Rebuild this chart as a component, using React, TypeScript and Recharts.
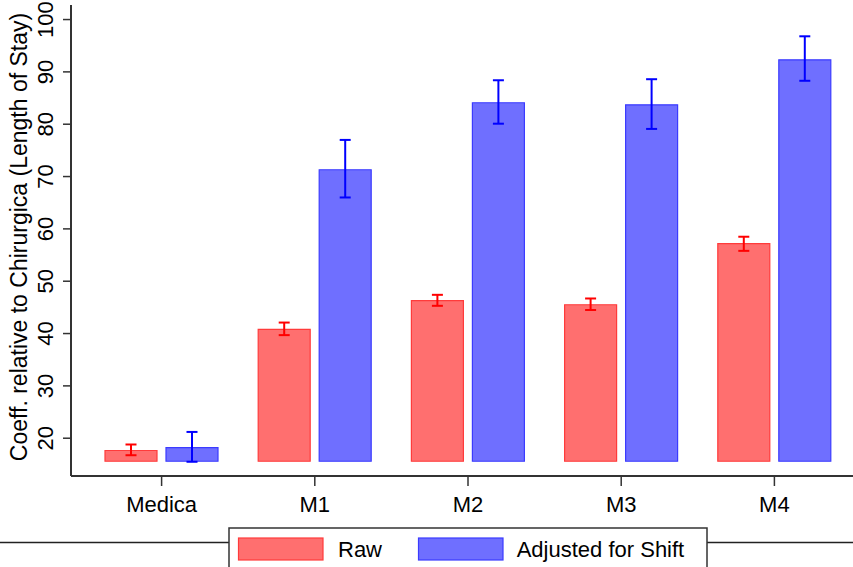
import React from 'react';
import { BarChart, Bar, XAxis, YAxis, ErrorBar } from 'recharts';

const categories = ['Medica', 'M1', 'M2', 'M3', 'M4'];
const rawValues = [17.65, 40.8, 46.3, 45.5, 57.2];
const rawLow = [16.75, 39.7, 45.3, 44.5, 55.8];
const rawHigh = [18.8, 42.1, 47.4, 46.7, 58.5];
const adjValues = [18.2, 71.3, 84.1, 83.7, 92.3];
const adjLow = [15.5, 66.0, 80.1, 79.1, 88.3];
const adjHigh = [21.2, 77.0, 88.4, 88.6, 96.8];
const yTicks = [20, 30, 40, 50, 60, 70, 80, 90, 100];
const barBase = 15.6;
const yDomain: [number, number] = [12.78, 102.78];
const seriesNames = ['Raw', 'Adjusted for Shift'];

const data = categories.map((c, i) => ({
  name: c,
  raw: [barBase, rawValues[i]],
  rawErr: [rawValues[i] - rawLow[i], rawHigh[i] - rawValues[i]],
  adj: [barBase, adjValues[i]],
  adjErr: [adjValues[i] - adjLow[i], adjHigh[i] - adjValues[i]],
}));

const FONT = '"Liberation Sans", Arial, sans-serif';
const RAW_FILL = '#ff6f6f';
const RAW_STROKE = '#ff3b3b';
const ADJ_FILL = '#6f6fff';
const ADJ_STROKE = '#3b3bff';
const AXIS = '#333333';

const YTick = (props: any) => {
  const { x, y, payload } = props;
  return (
    <text
      x={x}
      y={y}
      transform={`rotate(-90, ${x}, ${y})`}
      textAnchor="middle"
      fontSize={22}
      fontFamily={FONT}
      fill="#000"
    >
      {payload.value}
    </text>
  );
};

export default function App() {
  return (
    <div style={{ position: 'absolute', left: 0, top: 0, width: 853, height: 567, background: '#fff' }}>
      <BarChart
        width={853}
        height={567}
        data={data}
        margin={{ top: 5, right: 0, bottom: 0, left: 0 }}
        barSize={52}
        barGap={9}
      >
        <XAxis
          dataKey="name"
          height={91}
          padding={{ left: 14, right: 2 }}
          axisLine={{ stroke: AXIS, strokeWidth: 2 }}
          tickLine={{ stroke: AXIS, strokeWidth: 1.5 }}
          tickSize={10}
          tickMargin={10}
          tick={{ fontSize: 22, fontFamily: FONT, fill: '#000' }}
          interval={0}
        />
        <XAxis
          xAxisId="top"
          orientation="top"
          dataKey="name"
          height={0}
          tick={false}
          tickLine={false}
          axisLine={{ stroke: AXIS, strokeWidth: 2 }}
        />
        <YAxis
          width={71}
          domain={yDomain}
          ticks={yTicks}
          allowDataOverflow
          axisLine={{ stroke: AXIS, strokeWidth: 2 }}
          tickLine={{ stroke: AXIS, strokeWidth: 1.5 }}
          tickSize={8}
          tickMargin={10}
          tick={<YTick />}
          label={{
            content: () => (
              <text
                x={27}
                y={237}
                transform="rotate(-90, 27, 237)"
                textAnchor="middle"
                fontSize={23}
                fontFamily={FONT}
                fill="#000"
              >
                Coeff. relative to Chirurgica (Length of Stay)
              </text>
            ),
          }}
        />
        <Bar dataKey="raw" name={seriesNames[0]} fill={RAW_FILL} stroke={RAW_STROKE} strokeWidth={1.2} isAnimationActive={false}>
          <ErrorBar dataKey="rawErr" direction="y" width={5.5} stroke="#ff0000" strokeWidth={2} />
        </Bar>
        <Bar dataKey="adj" name={seriesNames[1]} fill={ADJ_FILL} stroke={ADJ_STROKE} strokeWidth={1.2} isAnimationActive={false}>
          <ErrorBar dataKey="adjErr" direction="y" width={5.5} stroke="#0000ff" strokeWidth={2} />
        </Bar>
      </BarChart>
      <svg
        width={853}
        height={567}
        style={{ position: 'absolute', left: 0, top: 0, pointerEvents: 'none' }}
      >
        <line x1={0} x2={853} y1={542.5} y2={542.5} stroke="#222" strokeWidth={1.5} />
        <rect x={229} y={528} width={478} height={60} fill="#fff" stroke={AXIS} strokeWidth={1.5} />
        <rect x={238.5} y={538} width={84.5} height={22} fill={RAW_FILL} stroke={RAW_STROKE} strokeWidth={1.2} />
        <text x={338} y={556.7} fontSize={22} fontFamily={FONT} fill="#000">{seriesNames[0]}</text>
        <rect x={418.5} y={538} width={84.5} height={22} fill={ADJ_FILL} stroke={ADJ_STROKE} strokeWidth={1.2} />
        <text x={516.7} y={556.7} fontSize={22} fontFamily={FONT} fill="#000">{seriesNames[1]}</text>
      </svg>
    </div>
  );
}
